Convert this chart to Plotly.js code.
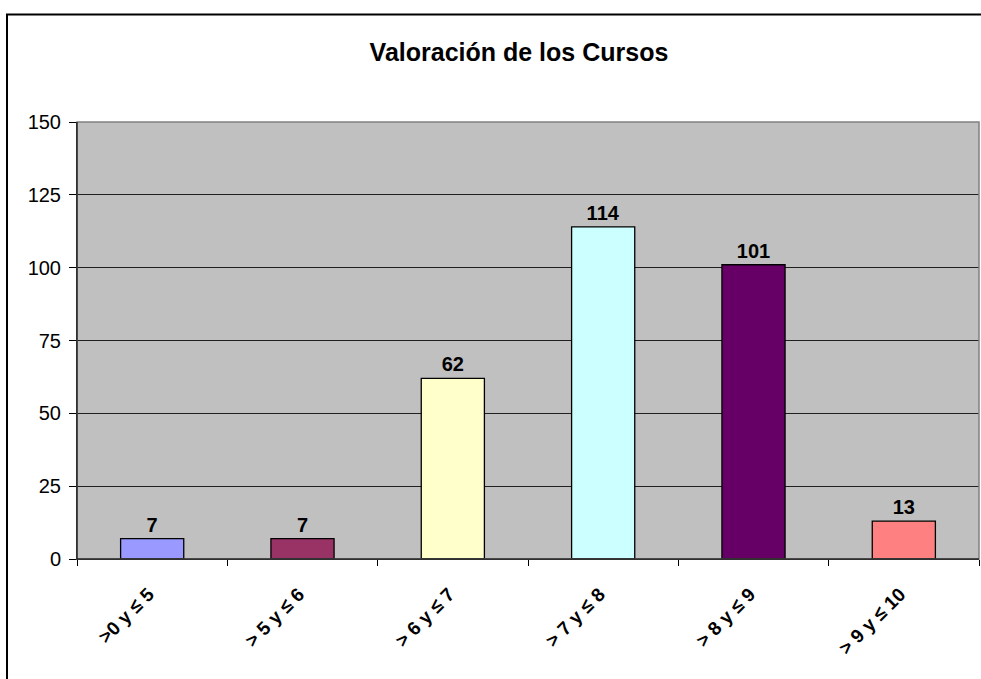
<!DOCTYPE html>
<html>
<head>
<meta charset="utf-8">
<script src="https://cdn.plot.ly/plotly-3.0.1.min.js"></script>
<style>html,body{margin:0;padding:0;background:#fff;}#chart{width:981px;height:679px;}</style>
</head>
<body>
<div id="chart"></div>
<script>
const categories = [">0 y ≤ 5", "> 5 y ≤ 6", "> 6 y ≤ 7", "> 7 y ≤ 8", "> 8 y ≤ 9", "> 9 y ≤ 10"];
const values = [7, 7, 62, 114, 101, 13];
const barColors = ["#9999FF", "#993366", "#FFFFCC", "#CCFFFF", "#660066", "#FF8080"];
const yTicks = [0, 25, 50, 75, 100, 125, 150];

const trace = {
  type: "bar",
  x: categories,
  y: values,
  width: 0.42,
  marker: {color: barColors, line: {color: "#000000", width: 1.3}},
  text: values.map(String),
  textposition: "outside",
  cliponaxis: false,
  textfont: {family: "Arial, Liberation Sans, sans-serif", size: 20, color: "#000", weight: "bold"},
  hoverinfo: "none"
};

const layout = {
  width: 981, height: 679,
  margin: {l: 77, r: 2, t: 122, b: 120},
  paper_bgcolor: "#ffffff",
  plot_bgcolor: "#C0C0C0",
  showlegend: false,
  title: {
    text: "<b>Valoración de los Cursos</b>",
    font: {family: "Arial, Liberation Sans, sans-serif", size: 25, color: "#000"},
    x: 0.49, xref: "paper", xanchor: "center",
    y: 0.923, yref: "container", yanchor: "middle"
  },
  xaxis: {
    type: "category",
    tickmode: "array",
    tickvals: categories,
    ticktext: categories.map(c => "<b>" + c + "\u00A0</b>"),
    tickangle: -45,
    tickson: "boundaries",
    ticks: "outside", ticklen: 6, tickcolor: "#000", tickwidth: 1,
    ticklabelstandoff: 12,
    tickfont: {family: "Arial, Liberation Sans, sans-serif", size: 19, color: "#000"},
    showline: true, linecolor: "#000", linewidth: 1,
    showgrid: false, zeroline: false,
    fixedrange: true
  },
  yaxis: {
    range: [0, 150],
    tickmode: "array",
    tickvals: yTicks,
    ticktext: yTicks.map(String),
    ticks: "outside", ticklen: 7, tickcolor: "#000", tickwidth: 1,
    ticklabelstandoff: 4,
    tickfont: {family: "Arial, Liberation Sans, sans-serif", size: 20, color: "#000"},
    showline: true, linecolor: "#000", linewidth: 1,
    showgrid: true, gridcolor: "#202020", gridwidth: 1,
    zeroline: false,
    fixedrange: true
  },
  shapes: [
    {type: "rect", xref: "paper", yref: "paper", x0: 0, x1: 1, y0: 0, y1: 1,
     line: {color: "#808080", width: 1.5}, fillcolor: "rgba(0,0,0,0)", layer: "above"},
    {type: "line", xref: "paper", yref: "paper", x0: 0, x1: 0, y0: 0, y1: 1,
     line: {color: "#000", width: 1}, layer: "above"},
    {type: "line", xref: "paper", yref: "paper", x0: 0, x1: 1, y0: 0, y1: 0,
     line: {color: "#000", width: 1}, layer: "above"},
    {type: "rect", xref: "paper", yref: "paper", x0: -0.0776, x1: 1.05, y0: -0.4, y1: 1.246,
     line: {color: "#000", width: 2}, fillcolor: "rgba(0,0,0,0)", layer: "above"}
  ]
};

Plotly.newPlot("chart", [trace], layout, {displayModeBar: false, staticPlot: true});
</script>
</body>
</html>
